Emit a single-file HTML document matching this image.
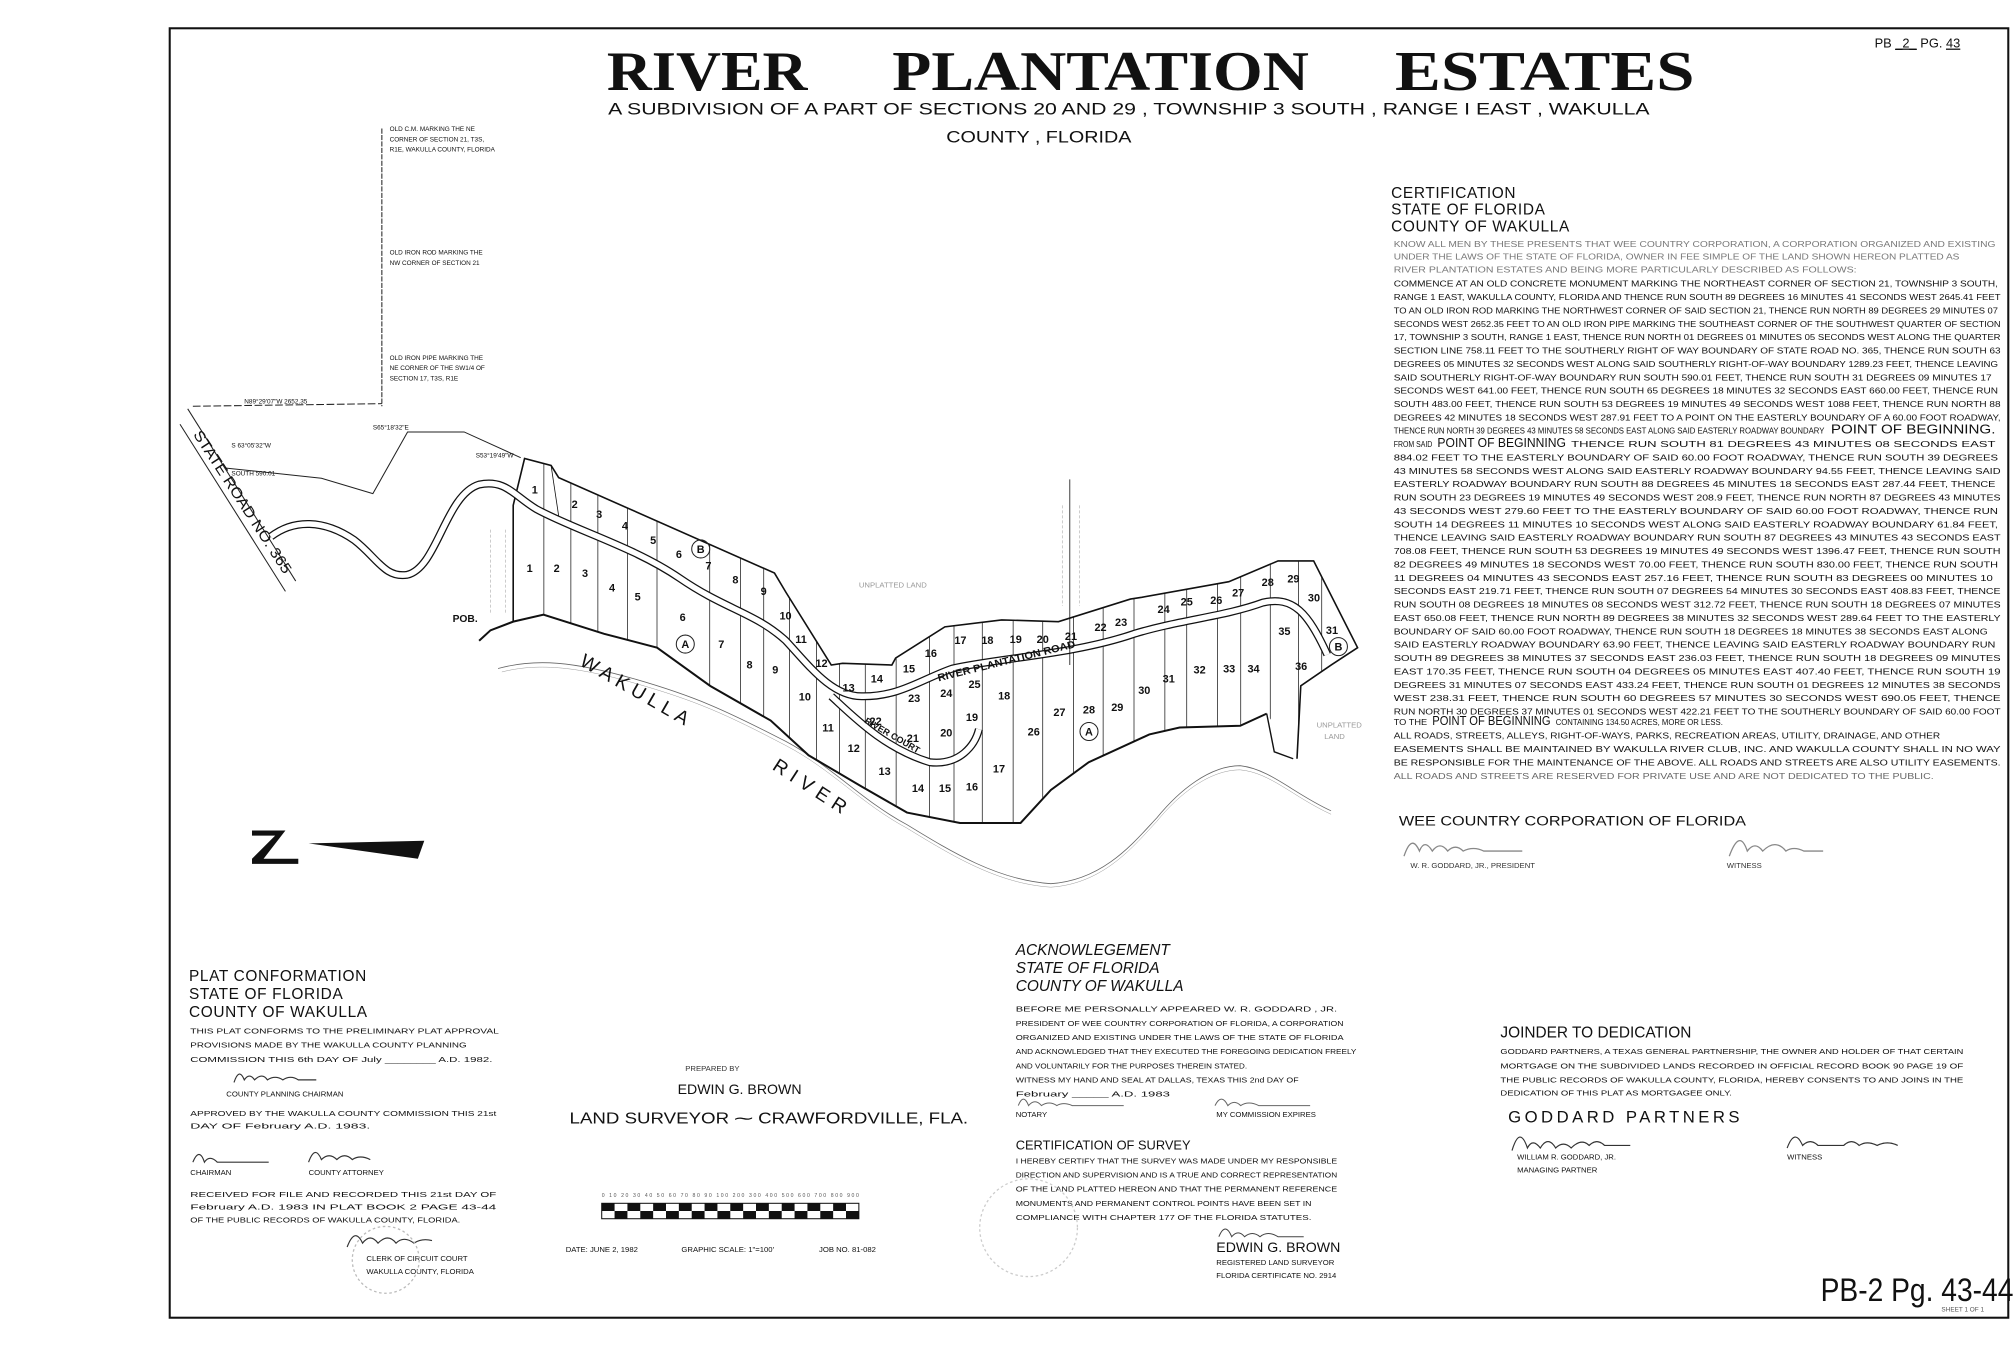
<!DOCTYPE html>
<html><head><meta charset="utf-8"><style>
html,body{margin:0;padding:0;background:#fff;}
svg{display:block;}
text{font-family:"Liberation Sans",sans-serif;fill:#111;}
.t{font-size:6.3px;fill:#222;}
.h{font-size:12px;letter-spacing:0.5px;}
.s{font-size:6px;fill:#333;}
.n{font-size:8.5px;font-weight:bold;text-anchor:middle;}
.ln{fill:none;stroke:#111;vector-effect:non-scaling-stroke;}
.ti{font-family:'Liberation Serif',serif;font-weight:bold;font-size:44px;}
</style></head><body>
<svg width="2016" height="1346" viewBox="0 0 1568 1047" preserveAspectRatio="none" xmlns="http://www.w3.org/2000/svg">
<rect width="1568" height="1047" fill="#fff"/>
<rect x="132" y="22" width="1430" height="1003" fill="none" stroke="#111" stroke-width="1.6"/>

<!-- title -->
<text class="ti" x="472" y="70" textLength="156" lengthAdjust="spacingAndGlyphs">RIVER</text>
<text class="ti" x="694" y="70" textLength="324" lengthAdjust="spacingAndGlyphs">PLANTATION</text>
<text class="ti" x="1085" y="70" textLength="233" lengthAdjust="spacingAndGlyphs">ESTATES</text>
<text x="473" y="89" style="font-size:13px" textLength="810" lengthAdjust="spacingAndGlyphs">A SUBDIVISION  OF A PART  OF  SECTIONS 20  AND  29 , TOWNSHIP  3 SOUTH , RANGE  I  EAST , WAKULLA</text>
<text x="736" y="111" style="font-size:13px" textLength="144" lengthAdjust="spacingAndGlyphs">COUNTY , FLORIDA</text>
<text x="1458" y="37" style="font-size:10px">PB <tspan text-decoration="underline">_2_</tspan> PG. <tspan text-decoration="underline">43</tspan></text>

<!-- certification -->
<text class="h" x="1082" y="154">CERTIFICATION</text>
<text class="h" x="1082" y="167">STATE OF FLORIDA</text>
<text class="h" x="1082" y="180">COUNTY OF WAKULLA</text>
<g class="t">
<text x="1084" y="192" textLength="468" lengthAdjust="spacingAndGlyphs" style="fill:#777">KNOW ALL MEN BY THESE PRESENTS THAT WEE COUNTRY CORPORATION, A CORPORATION ORGANIZED AND EXISTING</text>
<text x="1084" y="202" textLength="440" lengthAdjust="spacingAndGlyphs" style="fill:#777">UNDER THE LAWS OF THE STATE OF FLORIDA, OWNER IN FEE SIMPLE OF THE LAND SHOWN HEREON PLATTED AS</text>
<text x="1084" y="212" textLength="360" lengthAdjust="spacingAndGlyphs" style="fill:#777">RIVER PLANTATION ESTATES AND BEING MORE PARTICULARLY DESCRIBED AS FOLLOWS:</text>
<text x="1084" y="223" textLength="470" lengthAdjust="spacingAndGlyphs">COMMENCE AT AN OLD CONCRETE MONUMENT MARKING THE NORTHEAST CORNER OF SECTION 21, TOWNSHIP 3 SOUTH,</text>
<text x="1084" y="233.4" textLength="472" lengthAdjust="spacingAndGlyphs">RANGE 1 EAST, WAKULLA COUNTY, FLORIDA AND THENCE RUN SOUTH 89 DEGREES 16 MINUTES 41 SECONDS WEST 2645.41 FEET</text>
<text x="1084" y="243.8" textLength="470" lengthAdjust="spacingAndGlyphs">TO AN OLD IRON ROD MARKING THE NORTHWEST CORNER OF SAID SECTION 21, THENCE RUN NORTH 89 DEGREES 29 MINUTES 07</text>
<text x="1084" y="254.2" textLength="472" lengthAdjust="spacingAndGlyphs">SECONDS WEST 2652.35 FEET TO AN OLD IRON PIPE MARKING THE SOUTHEAST CORNER OF THE SOUTHWEST QUARTER OF SECTION</text>
<text x="1084" y="264.6" textLength="472" lengthAdjust="spacingAndGlyphs">17, TOWNSHIP 3 SOUTH, RANGE 1 EAST, THENCE RUN NORTH 01 DEGREES 01 MINUTES 05 SECONDS WEST ALONG THE QUARTER</text>
<text x="1084" y="275" textLength="472" lengthAdjust="spacingAndGlyphs">SECTION LINE 758.11 FEET TO THE SOUTHERLY RIGHT OF WAY BOUNDARY OF STATE ROAD NO. 365, THENCE RUN SOUTH 63</text>
<text x="1084" y="285.4" textLength="470" lengthAdjust="spacingAndGlyphs">DEGREES 05 MINUTES 32 SECONDS WEST ALONG SAID SOUTHERLY RIGHT-OF-WAY BOUNDARY 1289.23 FEET, THENCE LEAVING</text>
<text x="1084" y="295.8" textLength="465" lengthAdjust="spacingAndGlyphs">SAID SOUTHERLY RIGHT-OF-WAY BOUNDARY RUN SOUTH 590.01 FEET, THENCE RUN SOUTH 31 DEGREES 09 MINUTES 17</text>
<text x="1084" y="306.2" textLength="470" lengthAdjust="spacingAndGlyphs">SECONDS WEST 641.00 FEET, THENCE RUN SOUTH 65 DEGREES 18 MINUTES 32 SECONDS EAST 660.00 FEET, THENCE RUN</text>
<text x="1084" y="316.6" textLength="472" lengthAdjust="spacingAndGlyphs">SOUTH 483.00 FEET, THENCE RUN SOUTH 53 DEGREES 19 MINUTES 49 SECONDS WEST 1088 FEET, THENCE RUN NORTH 88</text>
<text x="1084" y="327" textLength="472" lengthAdjust="spacingAndGlyphs">DEGREES 42 MINUTES 18 SECONDS WEST 287.91 FEET TO A POINT ON THE EASTERLY BOUNDARY OF A 60.00 FOOT ROADWAY,</text>
<text x="1084" y="337.4" textLength="335" lengthAdjust="spacingAndGlyphs">THENCE RUN NORTH 39 DEGREES 43 MINUTES 58 SECONDS EAST ALONG SAID EASTERLY ROADWAY BOUNDARY</text>
<text x="1424" y="337.4" style="font-size:10px" textLength="128" lengthAdjust="spacingAndGlyphs">POINT OF BEGINNING.</text>
<text x="1084" y="347.8" textLength="30" lengthAdjust="spacingAndGlyphs">FROM SAID</text>
<text x="1118" y="347.8" style="font-size:10px" textLength="100" lengthAdjust="spacingAndGlyphs">POINT OF BEGINNING</text>
<text x="1222" y="347.8" textLength="330" lengthAdjust="spacingAndGlyphs">THENCE RUN SOUTH 81 DEGREES 43 MINUTES 08 SECONDS EAST</text>
<text x="1084" y="358.2" textLength="470" lengthAdjust="spacingAndGlyphs">884.02 FEET TO THE EASTERLY BOUNDARY OF SAID 60.00 FOOT ROADWAY, THENCE RUN SOUTH 39 DEGREES</text>
<text x="1084" y="368.6" textLength="472" lengthAdjust="spacingAndGlyphs">43 MINUTES 58 SECONDS WEST ALONG SAID EASTERLY ROADWAY BOUNDARY 94.55 FEET, THENCE LEAVING SAID</text>
<text x="1084" y="379" textLength="468" lengthAdjust="spacingAndGlyphs">EASTERLY ROADWAY BOUNDARY RUN SOUTH 88 DEGREES 45 MINUTES 18 SECONDS EAST 287.44 FEET, THENCE</text>
<text x="1084" y="389.4" textLength="472" lengthAdjust="spacingAndGlyphs">RUN SOUTH 23 DEGREES 19 MINUTES 49 SECONDS WEST 208.9 FEET, THENCE RUN NORTH 87 DEGREES 43 MINUTES</text>
<text x="1084" y="399.8" textLength="470" lengthAdjust="spacingAndGlyphs">43 SECONDS WEST 279.60 FEET TO THE EASTERLY BOUNDARY OF SAID 60.00 FOOT ROADWAY, THENCE RUN</text>
<text x="1084" y="410.2" textLength="470" lengthAdjust="spacingAndGlyphs">SOUTH 14 DEGREES 11 MINUTES 10 SECONDS WEST ALONG SAID EASTERLY ROADWAY BOUNDARY 61.84 FEET,</text>
<text x="1084" y="420.6" textLength="472" lengthAdjust="spacingAndGlyphs">THENCE LEAVING SAID EASTERLY ROADWAY BOUNDARY RUN SOUTH 87 DEGREES 43 MINUTES 43 SECONDS EAST</text>
<text x="1084" y="431" textLength="472" lengthAdjust="spacingAndGlyphs">708.08 FEET, THENCE RUN SOUTH 53 DEGREES 19 MINUTES 49 SECONDS WEST 1396.47 FEET, THENCE RUN SOUTH</text>
<text x="1084" y="441.4" textLength="470" lengthAdjust="spacingAndGlyphs">82 DEGREES 49 MINUTES 18 SECONDS WEST 70.00 FEET, THENCE RUN SOUTH 830.00 FEET, THENCE RUN SOUTH</text>
<text x="1084" y="451.8" textLength="466" lengthAdjust="spacingAndGlyphs">11 DEGREES 04 MINUTES 43 SECONDS EAST 257.16 FEET, THENCE RUN SOUTH 83 DEGREES 00 MINUTES 10</text>
<text x="1084" y="462.2" textLength="472" lengthAdjust="spacingAndGlyphs">SECONDS EAST 219.71 FEET, THENCE RUN SOUTH 07 DEGREES 54 MINUTES 30 SECONDS EAST 408.83 FEET, THENCE</text>
<text x="1084" y="472.6" textLength="472" lengthAdjust="spacingAndGlyphs">RUN SOUTH 08 DEGREES 18 MINUTES 08 SECONDS WEST 312.72 FEET, THENCE RUN SOUTH 18 DEGREES 07 MINUTES</text>
<text x="1084" y="483" textLength="472" lengthAdjust="spacingAndGlyphs">EAST 650.08 FEET, THENCE RUN NORTH 89 DEGREES 38 MINUTES 32 SECONDS WEST 289.64 FEET TO THE EASTERLY</text>
<text x="1084" y="493.4" textLength="462" lengthAdjust="spacingAndGlyphs">BOUNDARY OF SAID 60.00 FOOT ROADWAY, THENCE RUN SOUTH 18 DEGREES 18 MINUTES 38 SECONDS EAST ALONG</text>
<text x="1084" y="503.8" textLength="468" lengthAdjust="spacingAndGlyphs">SAID EASTERLY ROADWAY BOUNDARY 63.90 FEET, THENCE LEAVING SAID EASTERLY ROADWAY BOUNDARY RUN</text>
<text x="1084" y="514.2" textLength="472" lengthAdjust="spacingAndGlyphs">SOUTH 89 DEGREES 38 MINUTES 37 SECONDS EAST 236.03 FEET, THENCE RUN SOUTH 18 DEGREES 09 MINUTES</text>
<text x="1084" y="524.6" textLength="472" lengthAdjust="spacingAndGlyphs">EAST 170.35 FEET, THENCE RUN SOUTH 04 DEGREES 05 MINUTES EAST 407.40 FEET, THENCE RUN SOUTH 19</text>
<text x="1084" y="535" textLength="472" lengthAdjust="spacingAndGlyphs">DEGREES 31 MINUTES 07 SECONDS EAST 433.24 FEET, THENCE RUN SOUTH 01 DEGREES 12 MINUTES 38 SECONDS</text>
<text x="1084" y="545.4" textLength="472" lengthAdjust="spacingAndGlyphs">WEST 238.31 FEET, THENCE RUN SOUTH 60 DEGREES 57 MINUTES 30 SECONDS WEST 690.05 FEET, THENCE</text>
<text x="1084" y="555.8" textLength="472" lengthAdjust="spacingAndGlyphs">RUN NORTH 30 DEGREES 37 MINUTES 01 SECONDS WEST 422.21 FEET TO THE SOUTHERLY BOUNDARY OF SAID 60.00 FOOT</text>
<text x="1084" y="564" textLength="26" lengthAdjust="spacingAndGlyphs">TO THE</text>
<text x="1114" y="564" style="font-size:10px" textLength="92" lengthAdjust="spacingAndGlyphs">POINT OF BEGINNING</text>
<text x="1210" y="564" textLength="130" lengthAdjust="spacingAndGlyphs">CONTAINING 134.50 ACRES, MORE OR LESS.</text>
<text x="1084" y="574.6" textLength="425" lengthAdjust="spacingAndGlyphs">ALL ROADS, STREETS, ALLEYS, RIGHT-OF-WAYS, PARKS, RECREATION AREAS, UTILITY, DRAINAGE, AND OTHER</text>
<text x="1084" y="585" textLength="472" lengthAdjust="spacingAndGlyphs">EASEMENTS SHALL BE MAINTAINED BY WAKULLA RIVER CLUB, INC. AND WAKULLA COUNTY SHALL IN NO WAY</text>
<text x="1084" y="595.4" textLength="472" lengthAdjust="spacingAndGlyphs">BE RESPONSIBLE FOR THE MAINTENANCE OF THE ABOVE. ALL ROADS AND STREETS ARE ALSO UTILITY EASEMENTS.</text>
<text x="1084" y="605.8" textLength="420" lengthAdjust="spacingAndGlyphs" style="fill:#666">ALL ROADS AND STREETS ARE RESERVED FOR PRIVATE USE AND ARE NOT DEDICATED TO THE PUBLIC.</text>
</g>

<!-- wee country -->
<text x="1088" y="642" style="font-size:10.5px" textLength="270" lengthAdjust="spacingAndGlyphs">WEE  COUNTRY  CORPORATION  OF  FLORIDA</text>
<path d="M1092,666 q6,-18 12,-4 q4,-10 10,0 q6,-8 12,0 q6,-6 12,0 q8,-4 16,0 l30,0" fill="none" stroke="#888" stroke-width="1"/>
<path d="M1345,666 q8,-22 14,-4 q6,-8 12,0 q10,-10 18,0 q6,-4 14,0 l15,0" fill="none" stroke="#888" stroke-width="1"/>
<text class="s" x="1097" y="675">W. R. GODDARD, JR., PRESIDENT</text>
<text class="s" x="1343" y="675">WITNESS</text>

<!-- survey traverse top left -->
<g stroke="#222" stroke-width="0.8" fill="none">
<path d="M297,100 L297,316" stroke-dasharray="4,1"/>
<path d="M150,316 L297,314" stroke-dasharray="6,2"/>
<path d="M175,364 L250,372 L290,384 L317,336 L361,336 L405,356"/>
<path d="M146,318 L230,452"/>
<path d="M140,330 L222,460"/>
</g>
<g class="s" style="font-size:5px">
<text x="303" y="102">OLD C.M. MARKING THE NE</text>
<text x="303" y="110">CORNER OF SECTION 21, T3S,</text>
<text x="303" y="118">R1E, WAKULLA COUNTY, FLORIDA</text>
<text x="303" y="198">OLD IRON ROD MARKING THE</text>
<text x="303" y="206">NW CORNER OF SECTION 21</text>
<text x="303" y="280">OLD IRON PIPE MARKING THE</text>
<text x="303" y="288">NE CORNER OF THE SW1/4 OF</text>
<text x="303" y="296">SECTION 17, T3S, R1E</text>
<text x="190" y="314">N89°29'07"W 2652.35</text>
<text x="180" y="348">S 63°05'32"W</text>
<text x="180" y="370">SOUTH 590.01</text>
<text x="290" y="334">S65°18'32"E</text>
<text x="370" y="356">S53°19'49"W</text>
</g>
<text x="150" y="338" transform="rotate(57 150 338)" style="font-size:11.5px" textLength="130" lengthAdjust="spacingAndGlyphs">STATE ROAD NO. 365</text>

<!-- map -->
<defs>
<clipPath id="lots"><path transform="translate(140,304) scale(0.589,0.27)" d="M440,665 L440,330 L455,195 L490,215 L500,250 L785,525 L800,580 L860,790 L875,785 L940,790 L945,770 L1010,680 L1085,660 L1160,665 L1255,600 L1270,595 L1385,550 L1450,490 L1497,490 L1555,740 L1520,790 L1480,850 L1475,1060 L1435,930 L1400,965 L1320,970 L1280,990 L1200,1070 L1150,1150 L1110,1245 L1030,1245 L960,1215 L900,1140 L830,1050 L780,950 L700,850 L630,740 L560,700 L480,645 Z"/></clipPath>
</defs>
<g transform="translate(140,304) scale(0.589,0.27)">
<path class="ln" stroke-width="0.8" style="stroke:#666" d="M420,800 C470,770 520,780 600,830 C680,880 720,920 800,1010 C860,1080 900,1180 960,1250 C1020,1330 1080,1410 1150,1420 C1220,1410 1260,1300 1290,1230 C1320,1150 1360,1080 1400,1080 C1440,1090 1470,1160 1520,1210"/>
<path class="ln" stroke-width="0.5" style="stroke:#999" d="M425,810 C470,785 520,792 600,842 C680,892 720,930 800,1022 C860,1090 900,1190 960,1260 C1020,1340 1080,1420 1150,1430 C1220,1420 1260,1310 1290,1240 C1320,1160 1360,1092 1400,1092 C1440,1100 1470,1170 1520,1220"/>
</g>
<g clip-path="url(#lots)" stroke="#222" stroke-width="0.6">
<line x1="423" y1="330" x2="423" y2="700"/><line x1="444" y1="330" x2="444" y2="700"/><line x1="465" y1="330" x2="465" y2="700"/><line x1="488" y1="330" x2="488" y2="700"/><line x1="511" y1="330" x2="511" y2="700"/><line x1="552" y1="330" x2="552" y2="700"/><line x1="576" y1="330" x2="576" y2="700"/><line x1="594" y1="330" x2="594" y2="700"/><line x1="614" y1="330" x2="614" y2="700"/><line x1="635" y1="330" x2="635" y2="700"/><line x1="653" y1="330" x2="653" y2="700"/><line x1="673" y1="330" x2="673" y2="700"/><line x1="697" y1="330" x2="697" y2="700"/><line x1="723" y1="330" x2="723" y2="700"/><line x1="742" y1="330" x2="742" y2="700"/><line x1="764" y1="330" x2="764" y2="700"/><line x1="788" y1="330" x2="788" y2="700"/><line x1="811" y1="330" x2="811" y2="700"/><line x1="835" y1="330" x2="835" y2="700"/><line x1="858" y1="330" x2="858" y2="700"/><line x1="882" y1="330" x2="882" y2="700"/><line x1="906" y1="330" x2="906" y2="700"/><line x1="923" y1="330" x2="923" y2="700"/><line x1="947" y1="330" x2="947" y2="700"/><line x1="965" y1="330" x2="965" y2="700"/><line x1="988" y1="330" x2="988" y2="700"/><line x1="1010" y1="330" x2="1010" y2="700"/><line x1="1028" y1="330" x2="1028" y2="700"/>
</g>
<g transform="translate(140,304) scale(0.589,0.27)">
<path class="ln" stroke-width="1.6" d="M440,665 L440,330 L455,195 L490,215 L500,250 L785,525 L800,580 L860,790 L875,785 L940,790 L945,770 L1010,680 L1085,660 L1160,665 L1255,600 L1270,595 L1385,550 L1450,490 L1497,490 L1555,740 L1520,790 L1480,850 L1475,1060"/>
<path class="ln" stroke-width="2" d="M1435,930 L1400,965 L1320,970 L1280,990 L1200,1070 L1150,1150 L1110,1245 L1030,1245 L960,1215 L900,1140 L830,1050 L780,950 L700,850 L630,740 L560,700 L480,645 L440,665 L410,690 L395,720"/>
<path class="ln" stroke-width="1.4" d="M1435,930 L1445,1040 L1470,1060"/>
<path class="ln" stroke-width="8" d="M120,420 C150,370 190,370 230,430 C260,480 270,540 300,530 C340,510 350,300 395,270 C430,255 440,300 470,340 C520,400 600,450 660,540 C720,630 760,640 800,720 C830,790 860,880 900,880 C950,882 980,830 1020,800 C1080,770 1180,760 1260,700 C1320,660 1380,650 1430,610 C1470,590 1490,640 1515,760"/>
<path class="ln" stroke-width="5.5" style="stroke:#fff" d="M120,420 C150,370 190,370 230,430 C260,480 270,540 300,530 C340,510 350,300 395,270 C430,255 440,300 470,340 C520,400 600,450 660,540 C720,630 760,640 800,720 C830,790 860,880 900,880 C950,882 980,830 1020,800 C1080,770 1180,760 1260,700 C1320,660 1380,650 1430,610 C1470,590 1490,640 1515,760"/>
<path class="ln" stroke-width="8" d="M860,880 C890,940 930,1030 990,1070 C1030,1080 1050,1020 1055,975"/>
<path class="ln" stroke-width="5.5" style="stroke:#fff" d="M860,880 C890,940 930,1030 990,1070 C1030,1080 1050,1020 1055,975"/>
<path class="ln" stroke-width="0.8" d="M1175,255 L1175,790"/>
<path class="ln" stroke-width="0.5" style="stroke:#999" stroke-dasharray="3,2" d="M1165,330 L1165,620 M1188,330 L1188,620 M410,400 L410,640 M430,400 L430,640"/>
<path class="ln" stroke-width="0.8" d="M490,215 L500,360"/>
</g>
<!-- lot numbers -->
<g class="n">
<text x="416" y="384">1</text><text x="447" y="395">2</text><text x="466" y="403">3</text><text x="486" y="412">4</text><text x="508" y="423">5</text><text x="528" y="434">6</text><text x="551" y="443">7</text><text x="572" y="454">8</text><text x="594" y="463">9</text><text x="611" y="482">10</text><text x="623" y="500">11</text><text x="639" y="519">12</text>
<text x="412" y="445">1</text><text x="433" y="445">2</text><text x="455" y="449">3</text><text x="476" y="460">4</text><text x="496" y="467">5</text><text x="531" y="483">6</text><text x="561" y="504">7</text><text x="583" y="520">8</text><text x="603" y="524">9</text><text x="626" y="545">10</text><text x="644" y="569">11</text><text x="664" y="585">12</text><text x="660" y="538">13</text><text x="682" y="531">14</text><text x="707" y="523">15</text><text x="724" y="511">16</text><text x="747" y="501">17</text><text x="768" y="501">18</text><text x="790" y="500">19</text><text x="811" y="500">20</text><text x="833" y="498">21</text><text x="856" y="491">22</text><text x="872" y="487">23</text><text x="905" y="477">24</text><text x="923" y="471">25</text><text x="946" y="470">26</text><text x="963" y="464">27</text><text x="986" y="456">28</text><text x="1006" y="453">29</text><text x="1022" y="468">30</text><text x="1036" y="493">31</text><text x="999" y="494">35</text><text x="1012" y="521">36</text><text x="975" y="523">34</text><text x="956" y="523">33</text><text x="933" y="524">32</text><text x="909" y="531">31</text><text x="890" y="540">30</text><text x="869" y="553">29</text><text x="847" y="555">28</text><text x="824" y="557">27</text><text x="804" y="572">26</text><text x="758" y="535">25</text><text x="736" y="542">24</text><text x="711" y="546">23</text><text x="681" y="564">22</text><text x="710" y="577">21</text><text x="736" y="573">20</text><text x="756" y="561">19</text><text x="781" y="544">18</text><text x="777" y="601">17</text><text x="756" y="615">16</text><text x="735" y="616">15</text><text x="714" y="616">14</text><text x="688" y="603">13</text>
</g>
<g fill="none" stroke="#222" stroke-width="0.8">
<circle cx="533" cy="501" r="7"/><circle cx="847" cy="569" r="7"/><circle cx="545" cy="427" r="7"/><circle cx="1041" cy="503" r="7"/>
</g>
<g class="n"><text x="533" y="504">A</text><text x="847" y="572">A</text><text x="545" y="430">B</text><text x="1041" y="506">B</text></g>
<text x="352" y="484" style="font-size:8px;font-weight:bold">POB.</text>
<text x="668" y="457" style="font-size:6px;fill:#999">UNPLATTED LAND</text>
<text x="1024" y="566" style="font-size:6px;fill:#999">UNPLATTED</text>
<text x="1030" y="575" style="font-size:6px;fill:#999">LAND</text>
<text x="730" y="530" transform="rotate(-14 730 530)" style="font-size:8px;font-weight:bold" textLength="110" lengthAdjust="spacingAndGlyphs">RIVER PLANTATION ROAD</text>
<text x="672" y="562" transform="rotate(30 672 562)" style="font-size:7px;font-weight:bold">RIVER COURT</text>
<text x="450" y="517" transform="rotate(30 450 517)" style="font-size:15px" textLength="95" lengthAdjust="spacing">WAKULLA</text>
<text x="600" y="598" transform="rotate(33 600 598)" style="font-size:15px" textLength="65" lengthAdjust="spacing">RIVER</text>

<!-- north arrow -->
<path d="M196,646 L222,646 L205,668 L232,668 L232,672 L196,672 L196,668 L214,650 L196,650 Z" fill="#111"/>
<path d="M240,656 L330,654 L325,668 Z" fill="#111"/>

<!-- plat conformation -->
<text class="h" x="147" y="763">PLAT CONFORMATION</text>
<text class="h" x="147" y="777">STATE OF FLORIDA</text>
<text class="h" x="147" y="791">COUNTY OF WAKULLA</text>
<g class="s">
<text x="148" y="804" textLength="240" lengthAdjust="spacingAndGlyphs">THIS PLAT CONFORMS TO THE PRELIMINARY PLAT APPROVAL</text>
<text x="148" y="815" textLength="215" lengthAdjust="spacingAndGlyphs">PROVISIONS MADE BY THE WAKULLA COUNTY PLANNING</text>
<text x="148" y="826" textLength="235" lengthAdjust="spacingAndGlyphs">COMMISSION THIS 6th DAY OF July ________ A.D. 1982.</text>
<text x="176" y="853">COUNTY PLANNING CHAIRMAN</text>
<text x="148" y="868" textLength="238" lengthAdjust="spacingAndGlyphs">APPROVED BY THE WAKULLA COUNTY COMMISSION THIS 21st</text>
<text x="148" y="878" textLength="140" lengthAdjust="spacingAndGlyphs">DAY OF February  A.D. 1983.</text>
<text x="148" y="914">CHAIRMAN</text>
<text x="240" y="914">COUNTY ATTORNEY</text>
<text x="148" y="931" textLength="238" lengthAdjust="spacingAndGlyphs">RECEIVED FOR FILE AND RECORDED THIS 21st DAY OF</text>
<text x="148" y="941" textLength="238" lengthAdjust="spacingAndGlyphs">February  A.D. 1983 IN PLAT BOOK 2  PAGE 43-44</text>
<text x="148" y="951" textLength="210" lengthAdjust="spacingAndGlyphs">OF THE PUBLIC RECORDS OF WAKULLA COUNTY, FLORIDA.</text>
<text x="285" y="981">CLERK OF CIRCUIT COURT</text>
<text x="285" y="991">WAKULLA COUNTY, FLORIDA</text>
</g>
<g fill="none" stroke="#333" stroke-width="0.9">
<path d="M182,842 q4,-12 8,-2 q4,-6 8,0 q6,-6 10,0 q6,-4 12,0 q6,-4 12,0 l14,0"/>
<path d="M150,904 q5,-12 9,0 q4,-6 10,0 l40,0 M240,904 q5,-14 10,-2 q6,-6 12,0 q6,-6 12,0 q6,-4 14,0"/>
<path d="M270,970 q6,-16 12,-3 q6,-8 12,0 q8,-8 14,0 q6,-6 14,0 q6,-4 14,-2"/>
</g>
<circle cx="300" cy="980" r="26" fill="none" stroke="#bbb" stroke-width="1" stroke-dasharray="2,2"/>

<!-- prepared by -->
<text class="s" x="533" y="833">PREPARED      BY</text>
<text x="527" y="851" style="font-size:11px">EDWIN G. BROWN</text>
<text x="443" y="874" style="font-size:12px" textLength="310" lengthAdjust="spacingAndGlyphs">LAND SURVEYOR  ⁓  CRAWFORDVILLE, FLA.</text>
<g>
<rect x="468" y="936" width="200" height="12" fill="#fff" stroke="#111" stroke-width="0.8"/>
<path d="M468,936h10v6h-10z M488,936h10v6h-10z M508,936h10v6h-10z M528,936h10v6h-10z M548,936h10v6h-10z M568,936h10v6h-10z M588,936h10v6h-10z M608,936h10v6h-10z M628,936h10v6h-10z M648,936h10v6h-10z M478,942h10v6h-10z M498,942h10v6h-10z M518,942h10v6h-10z M538,942h10v6h-10z M558,942h10v6h-10z M578,942h10v6h-10z M598,942h10v6h-10z M618,942h10v6h-10z M638,942h10v6h-10z M658,942h10v6h-10z" fill="#111"/>
<text x="468" y="931" style="font-size:4px;fill:#555" textLength="200" lengthAdjust="spacing">0 10 20 30 40 50 60 70 80 90 100 200 300 400 500 600 700 800 900</text>
</g>
<g class="s">
<text x="440" y="974">DATE: JUNE 2, 1982</text>
<text x="530" y="974">GRAPHIC SCALE: 1"=100'</text>
<text x="637" y="974">JOB NO. 81-082</text>
</g>

<!-- acknowledgement -->
<text x="790" y="743" style="font-size:12px;font-style:italic">ACKNOWLEGEMENT</text>
<text x="790" y="757" style="font-size:12px;font-style:italic">STATE OF FLORIDA</text>
<text x="790" y="771" style="font-size:12px;font-style:italic">COUNTY OF WAKULLA</text>
<g class="s">
<text x="790" y="787" textLength="250" lengthAdjust="spacingAndGlyphs">BEFORE ME PERSONALLY APPEARED   W. R. GODDARD , JR.</text>
<text x="790" y="798" textLength="255" lengthAdjust="spacingAndGlyphs">PRESIDENT OF WEE COUNTRY CORPORATION OF FLORIDA, A CORPORATION</text>
<text x="790" y="809" textLength="255" lengthAdjust="spacingAndGlyphs">ORGANIZED AND EXISTING UNDER THE LAWS OF THE STATE OF FLORIDA</text>
<text x="790" y="820" textLength="265" lengthAdjust="spacingAndGlyphs">AND ACKNOWLEDGED THAT THEY EXECUTED THE FOREGOING DEDICATION FREELY</text>
<text x="790" y="831" textLength="180" lengthAdjust="spacingAndGlyphs">AND VOLUNTARILY FOR THE PURPOSES THEREIN STATED.</text>
<text x="790" y="842" textLength="220" lengthAdjust="spacingAndGlyphs">WITNESS MY HAND AND SEAL AT DALLAS, TEXAS THIS 2nd DAY OF</text>
<text x="790" y="853" textLength="120" lengthAdjust="spacingAndGlyphs">February _____ A.D. 1983</text>
<text x="790" y="869">NOTARY</text>
<text x="946" y="869">MY COMMISSION EXPIRES</text>
</g>
<g fill="none" stroke="#666" stroke-width="0.8">
<path d="M792,860 q4,-10 8,0 q5,-6 10,0 q6,-4 12,0 q5,-3 12,0 l40,0 M945,860 q5,-10 10,0 q5,-5 10,0 q6,-4 14,0 l40,0"/>
</g>
<text x="790" y="894" style="font-size:10px">CERTIFICATION  OF SURVEY</text>
<g class="s">
<text x="790" y="905" textLength="250" lengthAdjust="spacingAndGlyphs">I HEREBY CERTIFY THAT THE SURVEY WAS MADE UNDER MY RESPONSIBLE</text>
<text x="790" y="916" textLength="250" lengthAdjust="spacingAndGlyphs">DIRECTION AND SUPERVISION AND IS A TRUE AND CORRECT REPRESENTATION</text>
<text x="790" y="927" textLength="250" lengthAdjust="spacingAndGlyphs">OF THE LAND PLATTED HEREON AND THAT THE PERMANENT REFERENCE</text>
<text x="790" y="938" textLength="230" lengthAdjust="spacingAndGlyphs">MONUMENTS AND PERMANENT CONTROL POINTS HAVE BEEN SET IN</text>
<text x="790" y="949" textLength="230" lengthAdjust="spacingAndGlyphs">COMPLIANCE WITH CHAPTER 177 OF THE FLORIDA STATUTES.</text>
<text x="946" y="984">REGISTERED LAND SURVEYOR</text>
<text x="946" y="994">FLORIDA CERTIFICATE NO. 2914</text>
</g>
<path d="M948,962 q5,-12 10,0 q5,-6 10,0 q6,-5 12,0 q6,-5 14,0 l20,0" fill="none" stroke="#444" stroke-width="0.8"/>
<text x="946" y="974" style="font-size:11px">EDWIN G. BROWN</text>
<circle cx="800" cy="955" r="38" fill="none" stroke="#ccc" stroke-width="1" stroke-dasharray="2,2"/>

<!-- joinder -->
<text x="1167" y="807" style="font-size:12px">JOINDER  TO  DEDICATION</text>
<g class="s">
<text x="1167" y="820" textLength="360" lengthAdjust="spacingAndGlyphs">GODDARD PARTNERS, A TEXAS GENERAL PARTNERSHIP, THE OWNER AND HOLDER OF THAT CERTAIN</text>
<text x="1167" y="831" textLength="360" lengthAdjust="spacingAndGlyphs">MORTGAGE ON THE SUBDIVIDED LANDS RECORDED IN OFFICIAL RECORD BOOK 90 PAGE 19 OF</text>
<text x="1167" y="842" textLength="360" lengthAdjust="spacingAndGlyphs">THE PUBLIC RECORDS OF WAKULLA COUNTY, FLORIDA, HEREBY CONSENTS TO AND JOINS IN THE</text>
<text x="1167" y="852" textLength="180" lengthAdjust="spacingAndGlyphs">DEDICATION OF THIS PLAT AS MORTGAGEE ONLY.</text>
<text x="1180" y="902">WILLIAM R. GODDARD, JR.</text>
<text x="1180" y="912">MANAGING PARTNER</text>
<text x="1390" y="902">WITNESS</text>
</g>
<text x="1173" y="873" style="font-size:13px" textLength="180" lengthAdjust="spacing">GODDARD  PARTNERS</text>
<g fill="none" stroke="#333" stroke-width="0.9">
<path d="M1176,895 q6,-20 12,-2 q4,-8 10,0 q6,-10 12,0 q6,-6 12,0 q8,-8 14,-2 q6,-6 12,0 l20,0"/>
<path d="M1390,893 q6,-16 12,-2 q6,-6 12,0 l20,0 q6,-6 12,0 q6,-4 14,0 q8,-4 16,0"/>
</g>

<!-- PB-2 Pg -->
<text x="1416" y="1012" style="font-size:25px;font-family:'Liberation Sans Narrow','Liberation Sans',sans-serif" textLength="150" lengthAdjust="spacingAndGlyphs">PB-2  Pg. 43-44</text>
<text x="1510" y="1020" style="font-size:5px;fill:#555">SHEET 1 OF 1</text>
</svg>
</body></html>
